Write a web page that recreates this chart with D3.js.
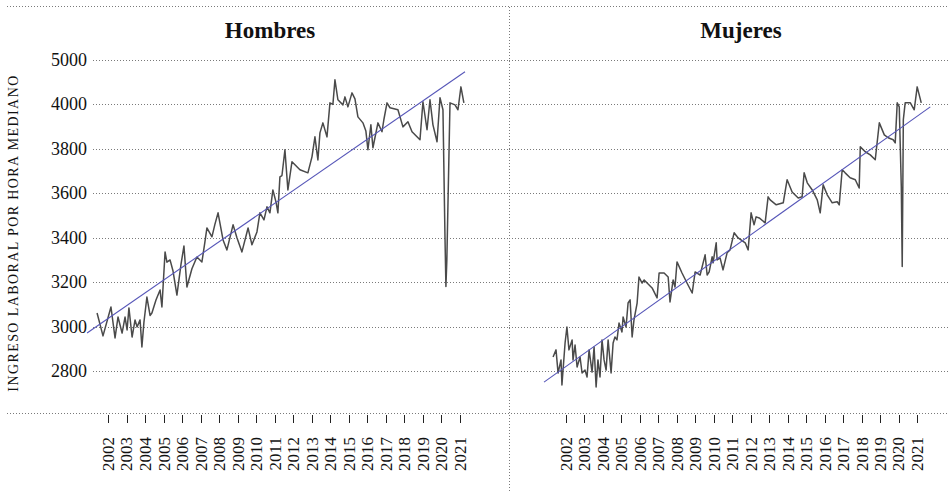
<!DOCTYPE html>
<html>
<head>
<meta charset="utf-8">
<script src="https://cdn.jsdelivr.net/npm/d3@7"></script>
<style>
  body { margin: 0; background: #fff; }
  text { font-family: "Liberation Serif", "DejaVu Serif", serif; fill: #111; }
</style>
</head>
<body>
<div id="chart"></div>
<script>
// monthly-ish median hourly labour income, [year, value]
const hombres = [
  [2001.41, 3061], [2001.73, 2958], [2002.16, 3088], [2002.38, 2949], [2002.54, 3043],
  [2002.76, 2971], [2002.92, 3043], [2003.03, 2985], [2003.13, 3084], [2003.30, 2953],
  [2003.46, 3030], [2003.57, 2998], [2003.73, 3030], [2003.83, 2908], [2003.94, 3020],
  [2004.10, 3133], [2004.27, 3050], [2004.37, 3061], [2004.59, 3120], [2004.81, 3165],
  [2004.91, 3088], [2005.08, 3336], [2005.18, 3290], [2005.35, 3300], [2005.51, 3250],
  [2005.72, 3142], [2005.94, 3280], [2006.10, 3363], [2006.26, 3178], [2006.53, 3260],
  [2006.80, 3313], [2007.07, 3291], [2007.23, 3380], [2007.34, 3444], [2007.61, 3404],
  [2007.77, 3460], [2007.94, 3512], [2008.21, 3390], [2008.42, 3345], [2008.75, 3458],
  [2008.96, 3400], [2009.23, 3336], [2009.56, 3444], [2009.77, 3368], [2010.04, 3426],
  [2010.20, 3512], [2010.42, 3480], [2010.58, 3539], [2010.74, 3512], [2010.90, 3615],
  [2011.07, 3560], [2011.17, 3512], [2011.28, 3674], [2011.39, 3680], [2011.55, 3796],
  [2011.71, 3615], [2011.93, 3742], [2012.36, 3706], [2012.79, 3692], [2013.01, 3764],
  [2013.17, 3854], [2013.33, 3750], [2013.44, 3872], [2013.60, 3917], [2013.82, 3854],
  [2013.98, 4007], [2014.14, 4000], [2014.25, 4111], [2014.41, 4021], [2014.68, 3998],
  [2014.79, 4034], [2014.95, 3989], [2015.17, 4052], [2015.33, 4025], [2015.49, 3944],
  [2015.76, 3917], [2015.92, 3880], [2016.03, 3796], [2016.19, 3908], [2016.30, 3805],
  [2016.57, 3917], [2016.79, 3877], [2016.89, 3931], [2017.06, 4007], [2017.22, 3985],
  [2017.65, 3976], [2017.92, 3899], [2018.19, 3922], [2018.41, 3877], [2018.84, 3841],
  [2019.00, 4012], [2019.22, 3886], [2019.38, 4021], [2019.54, 3908], [2019.76, 3832],
  [2019.92, 4030], [2020.08, 3976], [2020.19, 3400], [2020.24, 3180], [2020.29, 3300],
  [2020.46, 4007], [2020.73, 3998], [2020.89, 3976], [2021.05, 4079], [2021.21, 4007]
];

const mujeres = [
  [2001.30, 2863], [2001.46, 2895], [2001.57, 2791], [2001.73, 2850], [2001.78, 2737],
  [2001.95, 2926], [2002.05, 2998], [2002.16, 2895], [2002.33, 2940], [2002.38, 2850],
  [2002.49, 2917], [2002.60, 2818], [2002.76, 2863], [2002.87, 2791], [2003.03, 2804],
  [2003.14, 2773], [2003.25, 2895], [2003.41, 2795], [2003.52, 2908], [2003.63, 2728],
  [2003.73, 2850], [2003.84, 2773], [2003.95, 2940], [2004.06, 2850], [2004.17, 2804],
  [2004.28, 2940], [2004.44, 2791], [2004.55, 2926], [2004.65, 2953], [2004.76, 2940],
  [2004.87, 3016], [2005.03, 2976], [2005.09, 3043], [2005.25, 2998], [2005.36, 3106],
  [2005.47, 3120], [2005.58, 2953], [2005.68, 3030], [2005.85, 3106], [2005.95, 3223],
  [2006.12, 3196], [2006.23, 3210], [2006.39, 3196], [2006.66, 3174], [2006.93, 3129],
  [2007.04, 3241], [2007.31, 3241], [2007.53, 3223], [2007.63, 3111], [2007.80, 3210],
  [2007.90, 3178], [2008.01, 3291], [2008.28, 3241], [2008.55, 3196], [2008.83, 3151],
  [2008.99, 3246], [2009.26, 3232], [2009.53, 3323], [2009.64, 3232], [2009.75, 3246],
  [2009.91, 3314], [2009.96, 3287], [2010.13, 3377], [2010.18, 3300], [2010.34, 3309],
  [2010.50, 3255], [2010.72, 3332], [2010.88, 3345], [2011.10, 3422], [2011.32, 3399],
  [2011.70, 3377], [2011.86, 3345], [2012.02, 3512], [2012.18, 3458], [2012.29, 3494],
  [2012.46, 3489], [2012.78, 3467], [2012.94, 3584], [2013.05, 3570], [2013.38, 3548],
  [2013.76, 3557], [2013.97, 3661], [2014.24, 3606], [2014.57, 3579], [2014.78, 3584],
  [2014.89, 3692], [2015.06, 3647], [2015.33, 3615], [2015.60, 3570], [2015.76, 3512],
  [2015.92, 3638], [2016.14, 3593], [2016.41, 3557], [2016.68, 3562], [2016.79, 3548],
  [2016.95, 3706], [2017.11, 3692], [2017.38, 3670], [2017.66, 3661], [2017.87, 3624],
  [2017.93, 3809], [2018.20, 3787], [2018.47, 3773], [2018.74, 3751], [2018.96, 3917],
  [2019.23, 3863], [2019.44, 3850], [2019.71, 3841], [2019.82, 3827], [2019.93, 4007],
  [2020.04, 3989], [2020.15, 3629], [2020.20, 3270], [2020.26, 3931], [2020.36, 4007],
  [2020.64, 4007], [2020.85, 3976], [2021.01, 4079], [2021.23, 4007]
];

// fitted linear trend, end points
const hombresTrend = [[2000.87, 2971], [2021.27, 4147]];
const mujeresTrend = [[2000.81, 2750], [2021.72, 3989]];

const yearTicks = d3.range(2002, 2022);
const yTickValues = [2800, 3000, 3200, 3400, 3600, 3800, 4000, 4200];
const yTickLabels = ["2800", "3000", "3200", "3400", "3600", "3800", "4000", "5000"];

const panels = [
  { title: "Hombres", series: hombres, trend: hombresTrend, x0: 108, x1: 460, gl: 93, gr: 509, tx: 270 },
  { title: "Mujeres", series: mujeres, trend: mujeresTrend, x0: 566, x1: 917, gl: 509, gr: 948, tx: 741 }
];

const w = 948, h = 496;
const axisY = 413;

const svg = d3.select("#chart").append("svg")
  .attr("width", w)
  .attr("height", h);

const y = d3.scaleLinear().domain([2800, 4200]).range([371, 60]);

const dotted = (sel) => sel.attr("stroke", "#7a7a7a").attr("stroke-width", 1).attr("stroke-dasharray", "1,2");

// frame: top rule, x-axis rule, panel divider
svg.append("line").attr("x1", 7).attr("x2", w).attr("y1", 6.5).attr("y2", 6.5).call(dotted);
svg.append("line").attr("x1", 7).attr("x2", w).attr("y1", axisY + 0.5).attr("y2", axisY + 0.5).call(dotted);
svg.append("line").attr("x1", 509.5).attr("x2", 509.5).attr("y1", 7).attr("y2", 492).call(dotted);

// y labels (left panel only)
svg.append("g")
  .selectAll("text")
  .data(yTickValues)
  .join("text")
  .attr("x", 87)
  .attr("y", d => y(d))
  .attr("dy", "0.33em")
  .attr("text-anchor", "end")
  .attr("font-size", 18)
  .text((d, i) => yTickLabels[i]);

svg.append("text")
  .attr("transform", "translate(18,233) rotate(-90)")
  .attr("text-anchor", "middle")
  .attr("font-size", 14)
  .attr("letter-spacing", 1.4)
  .text("INGRESO LABORAL POR HORA MEDIANO");

panels.forEach(p => {
  const x = d3.scaleLinear().domain([2002, 2021]).range([p.x0, p.x1]);
  const g = svg.append("g");

  g.selectAll(".grid")
    .data(yTickValues)
    .join("line")
    .attr("x1", p.gl).attr("x2", p.gr)
    .attr("y1", d => Math.round(y(d)) + 0.5)
    .attr("y2", d => Math.round(y(d)) + 0.5)
    .call(dotted);

  g.append("text")
    .attr("x", p.tx)
    .attr("y", 38)
    .attr("text-anchor", "middle")
    .attr("font-size", 23)
    .attr("font-weight", "bold")
    .text(p.title);

  const line = d3.line().x(d => x(d[0])).y(d => y(d[1]));

  g.append("path")
    .datum(p.series)
    .attr("fill", "none")
    .attr("stroke", "#4a4a4a")
    .attr("stroke-width", 1.5)
    .attr("stroke-linejoin", "round")
    .attr("d", line);

  g.append("path")
    .datum(p.trend)
    .attr("fill", "none")
    .attr("stroke", "#5656b8")
    .attr("stroke-width", 1.1)
    .attr("d", line);

  // x axis ticks and rotated year labels
  const xAxis = g.append("g").attr("transform", `translate(0,${axisY})`);
  xAxis.selectAll("line")
    .data(yearTicks)
    .join("line")
    .attr("x1", d => Math.round(x(d)) + 0.5)
    .attr("x2", d => Math.round(x(d)) + 0.5)
    .attr("y1", 2).attr("y2", 10)
    .attr("stroke", "#222");
  xAxis.selectAll("text")
    .data(yearTicks)
    .join("text")
    .attr("transform", d => `translate(${x(d)},24) rotate(-90)`)
    .attr("dy", "0.35em")
    .attr("text-anchor", "end")
    .attr("font-size", 17)
    .text(d => d);
});
</script>
</body>
</html>
